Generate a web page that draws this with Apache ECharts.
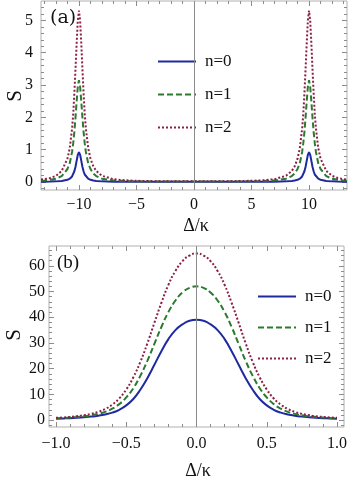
<!DOCTYPE html>
<html>
<head>
<meta charset="utf-8">
<script src="https://cdn.jsdelivr.net/npm/echarts@6/dist/echarts.min.js"></script>
<style>
  html, body { margin: 0; padding: 0; background: #fff; }
  #chart { width: 350px; height: 481px; }
</style>
</head>
<body>
<div id="chart"></div>
<script>
  // (a) peaks near ±10
  const topX = [-13.3, -13, -12.5, -12, -11.5, -11, -10.8, -10.6, -10.5, -10.4, -10.3, -10.2, -10.1, -10,
    -9.9, -9.8, -9.7, -9.6, -9.5, -9.4, -9.2, -9, -8.75, -8.5, -8, -7, -6, -5, -3, 0,
    3, 5, 6, 7, 8, 8.5, 8.75, 9, 9.2, 9.4, 9.5, 9.6, 9.7, 9.8, 9.9, 10,
    10.1, 10.2, 10.3, 10.4, 10.5, 10.6, 10.8, 11, 11.5, 12, 12.5, 13, 13.3]
  const topS0 = [0.007, 0.008, 0.011, 0.017, 0.03, 0.065, 0.1, 0.17, 0.23, 0.33, 0.47, 0.66, 0.84, 0.92,
    0.84, 0.66, 0.47, 0.33, 0.23, 0.17, 0.1, 0.065, 0.042, 0.03, 0.017, 0.008, 0.005, 0.003, 0.002, 0.002,
    0.002, 0.003, 0.005, 0.008, 0.017, 0.03, 0.042, 0.065, 0.1, 0.17, 0.23, 0.33, 0.47, 0.66, 0.84, 0.92,
    0.84, 0.66, 0.47, 0.33, 0.23, 0.17, 0.1, 0.065, 0.03, 0.017, 0.011, 0.008, 0.007]
  const topS1 = [0.04, 0.045, 0.065, 0.1, 0.18, 0.4, 0.58, 0.93, 1.2, 1.55, 2.0, 2.5, 2.95, 3.15,
    2.95, 2.5, 2.0, 1.55, 1.2, 0.93, 0.58, 0.4, 0.26, 0.18, 0.1, 0.045, 0.027, 0.018, 0.01, 0.012,
    0.01, 0.018, 0.027, 0.045, 0.1, 0.18, 0.26, 0.4, 0.58, 0.93, 1.2, 1.55, 2.0, 2.5, 2.95, 3.15,
    2.95, 2.5, 2.0, 1.55, 1.2, 0.93, 0.58, 0.4, 0.18, 0.1, 0.065, 0.045, 0.04]
  const topS2 = [0.075, 0.085, 0.12, 0.19, 0.34, 0.72, 1.05, 1.65, 2.1, 2.75, 3.5, 4.3, 5.0, 5.3,
    5.0, 4.3, 3.5, 2.75, 2.1, 1.65, 1.05, 0.72, 0.48, 0.34, 0.19, 0.085, 0.05, 0.035, 0.02, 0.024,
    0.02, 0.035, 0.05, 0.085, 0.19, 0.34, 0.48, 0.72, 1.05, 1.65, 2.1, 2.75, 3.5, 4.3, 5.0, 5.3,
    5.0, 4.3, 3.5, 2.75, 2.1, 1.65, 1.05, 0.72, 0.34, 0.19, 0.12, 0.085, 0.075]

  // (b) single peak at 0
  const botX = [-1, -0.95, -0.9, -0.85, -0.8, -0.75, -0.7, -0.65, -0.6, -0.55, -0.5, -0.45, -0.4, -0.35,
    -0.3, -0.25, -0.2, -0.15, -0.1, -0.05, 0, 0.05, 0.1, 0.15, 0.2, 0.25, 0.3, 0.35, 0.4, 0.45, 0.5,
    0.55, 0.6, 0.65, 0.7, 0.75, 0.8, 0.85, 0.9, 0.95, 1]
  const botS0 = [0.55, 0.65, 0.75, 0.9, 1.1, 1.35, 1.7, 2.2, 2.9, 4.0, 5.7, 8.2, 11.8, 16.3, 21.5, 26.8,
    31.5, 35, 37.2, 38.6, 39, 38.6, 37.2, 35, 31.5, 26.8, 21.5, 16.3, 11.8, 8.2, 5.7, 4.0, 2.9, 2.2,
    1.7, 1.35, 1.1, 0.9, 0.75, 0.65, 0.55]
  const botS1 = [0.68, 0.8, 0.95, 1.15, 1.45, 1.85, 2.4, 3.2, 4.4, 6.2, 8.8, 12.4, 17.2, 23, 29.6, 36.2,
    42, 46.5, 49.6, 51.4, 52, 51.4, 49.6, 46.5, 42, 36.2, 29.6, 23, 17.2, 12.4, 8.8, 6.2, 4.4, 3.2,
    2.4, 1.85, 1.45, 1.15, 0.95, 0.8, 0.68]
  const botS2 = [0.85, 1.0, 1.2, 1.5, 1.9, 2.4, 3.2, 4.3, 6.0, 8.4, 11.9, 16.6, 22.6, 29.8, 37.8, 45.6,
    52.6, 58, 61.8, 64, 64.8, 64, 61.8, 58, 52.6, 45.6, 37.8, 29.8, 22.6, 16.6, 11.9, 8.4, 6.0, 4.3,
    3.2, 2.4, 1.9, 1.5, 1.2, 1.0, 0.85]

  // tick values
  const topXMajor = [-10, -5, 0, 5, 10]
  const topXMinor = [-13, -12, -11, -9, -8, -7, -6, -4, -3, -2, -1, 1, 2, 3, 4, 6, 7, 8, 9, 11, 12, 13]
  const topYMajor = [0, 1, 2, 3, 4, 5]
  const topYMinor = [-0.2, 0.2, 0.4, 0.6, 0.8, 1.2, 1.4, 1.6, 1.8, 2.2, 2.4, 2.6, 2.8, 3.2, 3.4, 3.6, 3.8,
    4.2, 4.4, 4.6, 4.8, 5.2, 5.4]
  const botXMajor = [-1, -0.5, 0, 0.5, 1]
  const botXMinor = [-0.9, -0.8, -0.7, -0.6, -0.4, -0.3, -0.2, -0.1, 0.1, 0.2, 0.3, 0.4, 0.6, 0.7, 0.8, 0.9]
  const botYMajor = [0, 10, 20, 30, 40, 50, 60]
  const botYMinor = [-2, 2, 4, 6, 8, 12, 14, 16, 18, 22, 24, 26, 28, 32, 34, 36, 38, 42, 44, 46, 48,
    52, 54, 56, 58, 62, 64, 66]

  const names = ['n=0', 'n=1', 'n=2']
  const colors = ['#1e2a9e', '#2b7a2e', '#8c1f45']
  const serif = "'Liberation Serif', serif"
  const minus = (s) => s.replace('-', '\u2212')

  // 4 axes per side pair: labelled major, minor, opposite major, opposite minor
  function frameAxes(grid, dim, min, max, majors, minors, fmt, margin) {
    const pos = dim === 'x' ? ['bottom', 'top'] : ['left', 'right']
    const base = (p, ticks, len) => ({
      type: 'value',
      gridIndex: grid,
      position: p,
      min: min,
      max: max,
      axisLine: { show: false, onZero: false },
      splitLine: { show: false },
      axisLabel: { show: false },
      axisTick: {
        show: true,
        inside: true,
        length: len,
        customValues: ticks,
        lineStyle: { color: '#8c8c8c', width: 1 }
      }
    })
    const main = base(pos[0], majors, 5)
    main.axisLabel = {
      show: true,
      customValues: majors,
      formatter: fmt,
      fontFamily: serif,
      fontSize: 16,
      color: '#111',
      margin: margin
    }
    return [main, base(pos[0], minors, 3), base(pos[1], majors, 5), base(pos[1], minors, 3)]
  }

  const fmtInt = (v) => minus(String(v))
  const fmtOne = (v) => minus(v.toFixed(1))

  const styles = [
    { width: 2, type: 'solid' },
    { width: 2, type: [6, 3] },
    { width: 2, type: [2, 2] }
  ]

  function makeSeries(xs, ys, k, axisIndex, smooth) {
    const s = {
      name: names[k],
      type: 'line',
      xAxisIndex: axisIndex,
      yAxisIndex: axisIndex,
      symbol: 'none',
      smooth: smooth,
      color: colors[k],
      lineStyle: Object.assign({ color: colors[k] }, styles[k]),
      data: xs.map((x, i) => [x, ys[i]])
    }
    if (k === 0) {
      s.markLine = {
        silent: true,
        symbol: 'none',
        label: { show: false },
        lineStyle: { color: '#8a8a8a', width: 1, type: 'solid' },
        data: [{ xAxis: 0 }]
      }
    }
    return s
  }

  const legendBase = {
    orient: 'vertical',
    itemWidth: 38,
    itemHeight: 14,
    data: names,
    selectedMode: false,
    itemStyle: { opacity: 0 },
    textStyle: { fontFamily: serif, fontSize: 17, color: '#111', padding: [0, 0, 0, 4] }
  }

  const option = {
    animation: false,
    textStyle: { fontFamily: serif },
    grid: [
      { left: 41, top: 1, width: 306, height: 189, show: true, borderColor: '#b0b0b0', borderWidth: 1 },
      { left: 49, top: 246, width: 296, height: 181, show: true, borderColor: '#b0b0b0', borderWidth: 1 }
    ],
    xAxis: [].concat(
      frameAxes(0, 'x', -13.3, 13.3, topXMajor, topXMinor, fmtInt, 7),
      frameAxes(1, 'x', -1.05, 1.05, botXMajor, botXMinor, fmtOne, 9)
    ),
    yAxis: [].concat(
      frameAxes(0, 'y', -0.25, 5.6, topYMajor, topYMinor, fmtInt, 8),
      frameAxes(1, 'y', -2.7, 67.7, botYMajor, botYMinor, fmtInt, 4)
    ),
    legend: [
      Object.assign({ left: 152, top: 48, itemGap: 16 }, legendBase),
      Object.assign({ left: 252, top: 283, itemGap: 14 }, legendBase)
    ],
    graphic: [
      { type: 'text', left: 50, top: 9, style: { text: '(a)', fontFamily: 'DejaVu Serif', fontSize: 19, fill: '#111' } },
      { type: 'text', left: 57, top: 254, style: { text: '(b)', fontFamily: serif, fontSize: 19, fill: '#111' } },
      { type: 'text', x: 15, y: 96, rotation: Math.PI / 2,
        style: { text: 'S', fontFamily: serif, fontSize: 21, fill: '#111', align: 'center', verticalAlign: 'middle' } },
      { type: 'text', x: 14, y: 335, rotation: Math.PI / 2,
        style: { text: 'S', fontFamily: serif, fontSize: 21, fill: '#111', align: 'center', verticalAlign: 'middle' } },
      { type: 'text', x: 196, y: 226,
        style: { text: '\u0394/\u03ba', fontFamily: serif, fontSize: 18, fill: '#111', align: 'center', verticalAlign: 'middle' } },
      { type: 'text', x: 198, y: 471,
        style: { text: '\u0394/\u03ba', fontFamily: serif, fontSize: 18, fill: '#111', align: 'center', verticalAlign: 'middle' } }
    ],
    series: [
      makeSeries(topX, topS0, 0, 0, false),
      makeSeries(topX, topS1, 1, 0, false),
      makeSeries(topX, topS2, 2, 0, false),
      makeSeries(botX, botS0, 0, 4, true),
      makeSeries(botX, botS1, 1, 4, true),
      makeSeries(botX, botS2, 2, 4, true)
    ]
  }

  const myChart = echarts.init(document.getElementById('chart'))
  myChart.setOption(option)
</script>
</body>
</html>
